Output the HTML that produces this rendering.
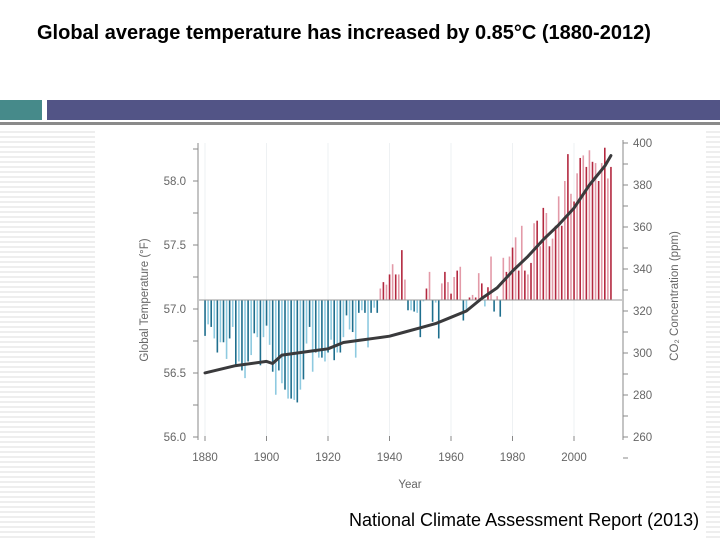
<!DOCTYPE html>
<html><head><meta charset="utf-8"><style>
html,body{margin:0;padding:0;background:#fff;}
#root{position:relative;width:720px;height:540px;overflow:hidden;font-family:"Liberation Sans",sans-serif;}
.stripes{position:absolute;background:repeating-linear-gradient(to bottom,#fff 0,#fff 3px,#eeeeee 3px,#eeeeee 5px);}
</style></head><body>
<div id="root">
<div class="stripes" style="left:0;top:128px;width:95px;height:412px;"></div>
<div class="stripes" style="left:706px;top:128px;width:14px;height:412px;"></div>
<div style="position:absolute;left:37px;top:22px;font-size:20px;font-weight:bold;color:#000;white-space:nowrap;">Global average temperature has increased by 0.85°C (1880-2012)</div>
<div style="position:absolute;left:0;top:100px;width:42px;height:20px;background:#468a8a;"></div>
<div style="position:absolute;left:47px;top:100px;width:673px;height:20px;background:#525486;"></div>
<div style="position:absolute;left:0;top:122px;width:720px;height:3px;background:#8a8a8a;"></div>
<svg id="chart" style="position:absolute;left:0;top:0" width="720" height="540"></svg>
<div style="position:absolute;left:349px;top:510px;font-size:18px;color:#000;white-space:nowrap;">National Climate Assessment Report (2013)</div>
</div>
<script>
const startYear = 1880;
const tempF = [56.79,56.88,56.86,56.77,56.66,56.74,56.74,56.61,56.77,56.86,
56.55,56.59,56.52,56.46,56.59,56.64,56.81,56.78,56.56,56.78,
56.87,56.72,56.51,56.33,56.52,56.42,56.37,56.30,56.30,56.29,
56.27,56.37,56.45,56.73,56.86,56.51,56.66,56.62,56.62,56.59,
56.66,56.76,56.60,56.66,56.66,56.78,56.95,56.84,56.82,56.62,
56.97,56.99,56.97,56.70,56.97,57.01,56.97,57.16,57.21,57.19,
57.27,57.35,57.27,57.27,57.46,57.23,56.99,56.99,56.98,56.97,
56.78,57.06,57.16,57.29,56.90,57.05,56.77,57.20,57.29,57.21,
57.12,57.25,57.30,57.33,56.91,56.99,57.09,57.11,57.09,57.28,
57.20,57.02,57.17,57.41,56.98,57.10,56.94,57.40,57.29,57.41,
57.48,57.56,57.30,57.65,57.30,57.27,57.36,57.67,57.69,57.49,
57.79,57.75,57.49,57.55,57.65,57.88,57.65,58.00,58.21,57.90,
57.84,58.06,58.18,58.20,58.11,58.24,58.15,58.14,58.00,58.14,
58.26,58.02,58.11];
const baselineF = 57.07;
const co2Years = [1880,1890,1900,1902,1905,1910,1915,1920,1925,1930,1935,1940,1945,1950,1955,1960,1965,1970,1975,1980,1985,1990,1995,2000,2005,2010,2012];
const co2Ppm = [290.5,294,296,295,299,300,301,302,305,306,307,308,310,312,314,317,320,326,331,339,346,354,361,369,380,389,394];
const xTicks = [1880,1900,1920,1940,1960,1980,2000];
const leftTicks = ["56.0","56.5","57.0","57.5","58.0"];
const rightTicks = ["260","280","300","320","340","360","380","400"];

const NS="http://www.w3.org/2000/svg";
const svg=document.getElementById('chart');
const xS=y=>205+(y-1880)*3.075;
const yT=v=>309-(v-57.0)*128;
const yC=p=>437-(p-260)*2.1;
function mk(tag,attrs,parent){const e=document.createElementNS(NS,tag);for(const k in attrs)e.setAttribute(k,attrs[k]);(parent||svg).appendChild(e);return e;}

xTicks.forEach(t=>{
  const g=mk('line',{x1:xS(t),x2:xS(t),y1:143,y2:440,stroke:'#eef1f3','stroke-width':1});
  
  
});
const base=yT(baselineF);
tempF.forEach((v,i)=>{
  const yr=startYear+i, x=xS(yr), y=yT(v);
  const warm=v>=baselineF, dark=i%2===0;
  const col=warm?(dark?'#b3283f':'#e39aa8'):(dark?'#1f6f8e':'#8ecae0');
  const b=mk('rect',{x:x-0.75,y:Math.min(y,base),width:1.6,height:Math.max(0.5,Math.abs(y-base)),fill:col});
  
  
});
const bl=mk('line',{x1:199,x2:622,y1:base,y2:base,stroke:'#999','stroke-width':1});


const pts=co2Years.map((y,i)=>xS(y).toFixed(1)+','+yC(co2Ppm[i]).toFixed(1)).join(' ');
const ln=mk('polyline',{points:pts,fill:'none',stroke:'#3a3a3c','stroke-width':3,'stroke-linejoin':'round','stroke-linecap':'round'});


const la=mk('line',{x1:198,x2:198,y1:143,y2:440,stroke:'#888','stroke-width':1});


for(let v=56.0;v<=58.26;v+=0.25){
  const t=mk('line',{x1:193,x2:198,y1:yT(v),y2:yT(v),stroke:'#888'});
  
  
}
leftTicks.forEach(s=>{
  const t=mk('text',{x:186,y:yT(+s)+4,'text-anchor':'end','font-size':11.5,fill:'#666','font-family':'Liberation Sans, sans-serif'});
  t.textContent=s;
  
  
});
const ra=mk('line',{x1:623,x2:623,y1:140,y2:440,stroke:'#888'});


for(let p=250;p<=400;p+=10){
  const t=mk('line',{x1:623,x2:628,y1:yC(p),y2:yC(p),stroke:'#888'});
  
  
}
rightTicks.forEach(s=>{
  const t=mk('text',{x:633,y:yC(+s)+4,'font-size':11.5,fill:'#666','font-family':'Liberation Sans, sans-serif'});
  t.textContent=s;
  
  
});
xTicks.forEach(t=>{
  const tk=mk('line',{x1:xS(t),x2:xS(t),y1:436,y2:441,stroke:'#888'});
  
  
  const tx=mk('text',{x:xS(t),y:461,'text-anchor':'middle','font-size':11.5,fill:'#666','font-family':'Liberation Sans, sans-serif'});
  tx.textContent=t;
  
  
});
const xt=mk('text',{x:410,y:488,'text-anchor':'middle','font-size':11.5,fill:'#666','font-family':'Liberation Sans, sans-serif'});
xt.textContent='Year';


const yt=mk('text',{x:0,y:0,transform:'translate(148,300) rotate(-90)','text-anchor':'middle','font-size':11.5,fill:'#666','font-family':'Liberation Sans, sans-serif'});
yt.textContent='Global Temperature (°F)';


const rt=mk('text',{x:0,y:0,transform:'translate(678,296) rotate(-90)','text-anchor':'middle','font-size':11.5,fill:'#666','font-family':'Liberation Sans, sans-serif'});
rt.textContent='CO₂ Concentration (ppm)';


</script>
</body></html>
